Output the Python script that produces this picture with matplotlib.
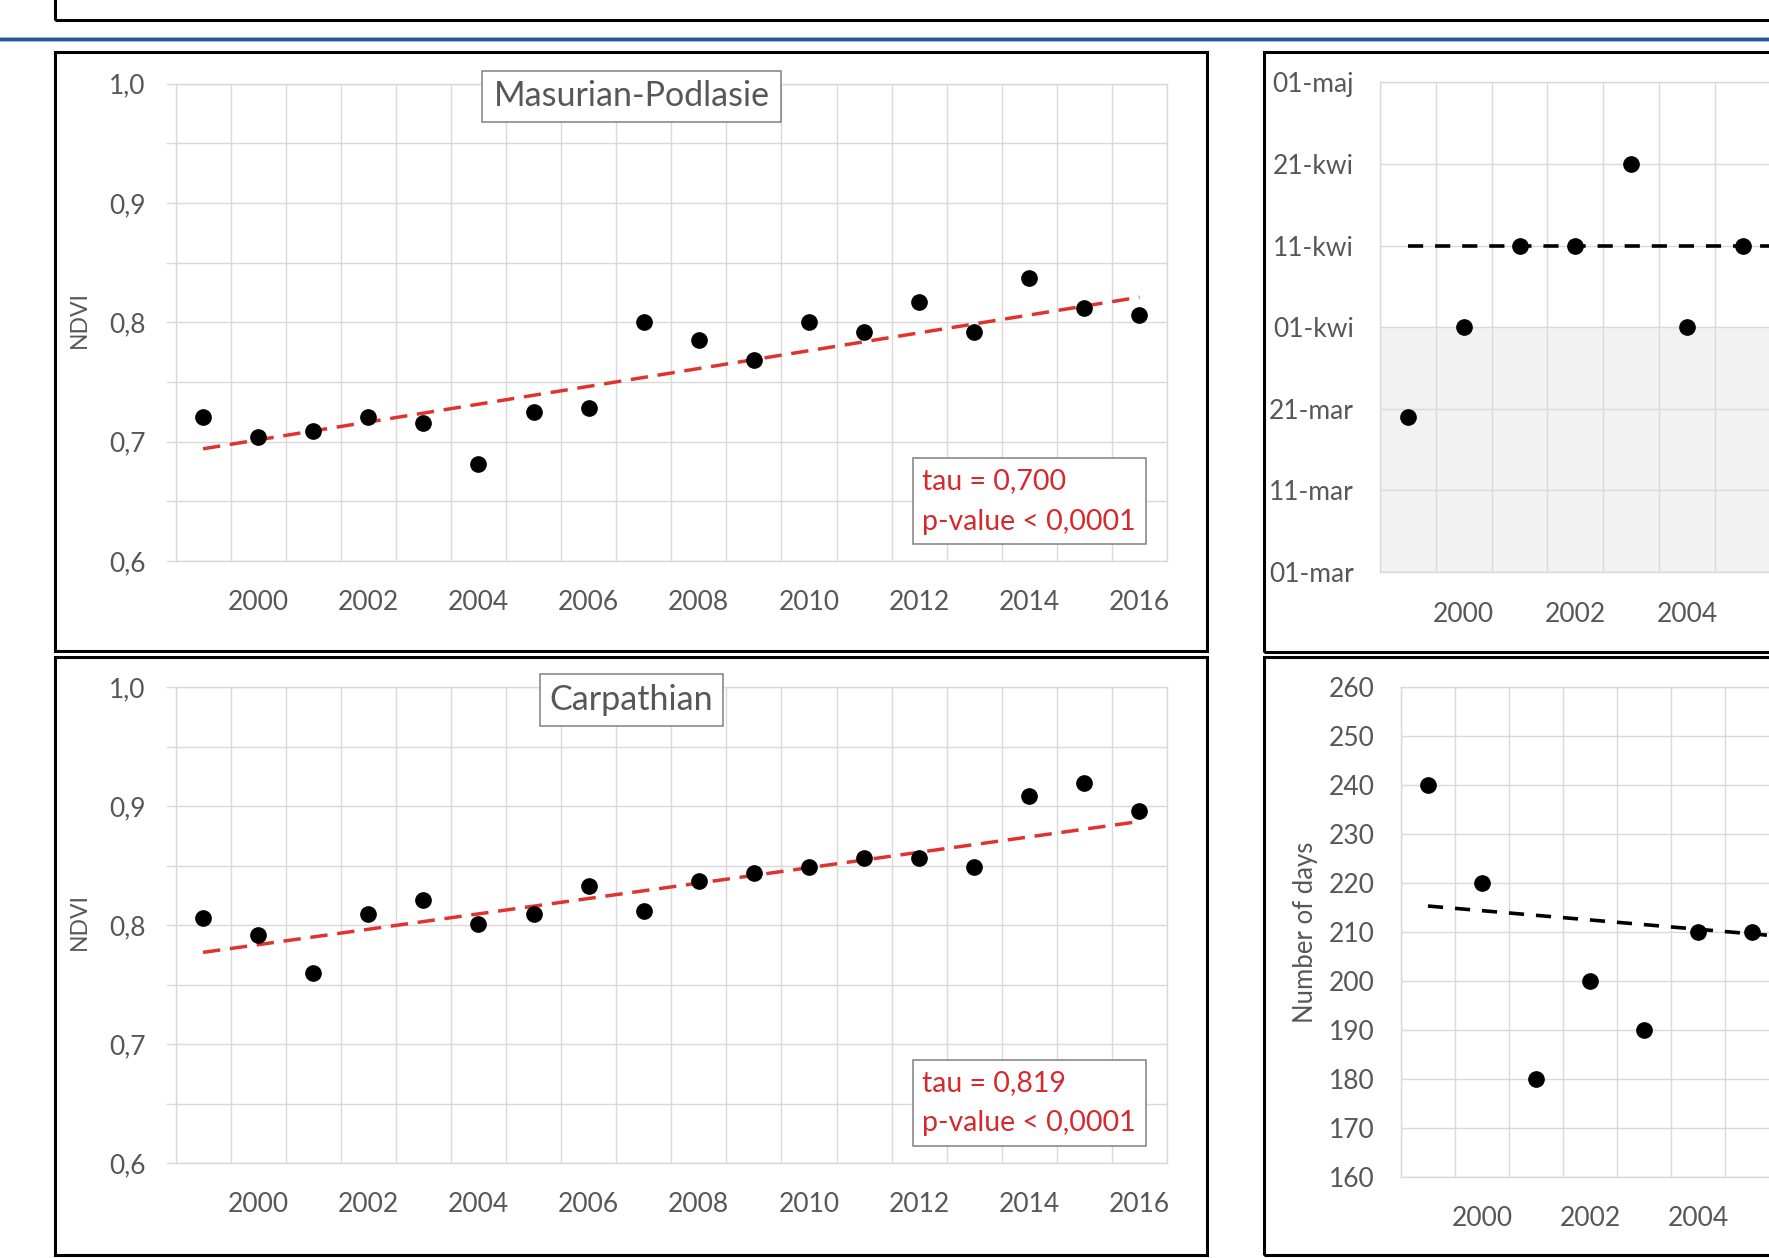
import matplotlib
matplotlib.use("Agg")
import matplotlib.pyplot as plt
from matplotlib.patches import Rectangle
from matplotlib.lines import Line2D

# ---------------- data ----------------
years = list(range(1999, 2017))
year_labels = ['2000', '2002', '2004', '2006', '2008', '2010', '2012', '2014', '2016']

masurian_ndvi = [0.721, 0.704, 0.709, 0.721, 0.716, 0.681, 0.725, 0.728, 0.800,
                 0.785, 0.768, 0.800, 0.792, 0.817, 0.792, 0.837, 0.812, 0.806]
masurian_trend = [0.694, 0.821]          # trend at first / last year
masurian_stats = ['tau = 0,700', 'p-value < 0,0001']

carpathian_ndvi = [0.806, 0.792, 0.760, 0.809, 0.821, 0.801, 0.809, 0.833, 0.812,
                   0.837, 0.844, 0.849, 0.856, 0.856, 0.849, 0.908, 0.919, 0.896]
carpathian_trend = [0.777, 0.887]
carpathian_stats = ['tau = 0,819', 'p-value < 0,0001']

ndvi_ticks = [0.60, 0.65, 0.70, 0.75, 0.80, 0.85, 0.90, 0.95, 1.00]
ndvi_tick_labels = ['0,6', '', '0,7', '', '0,8', '', '0,9', '', '1,0']

# start of season (days after 01-mar, on the chart's 10-day scale) - visible part only
onset_years = [1999, 2000, 2001, 2002, 2003, 2004, 2005]
onset_days = [19, 30, 40, 40, 50, 30, 40]
onset_trend = [40, 40]
date_ticks = [0, 10, 20, 30, 40, 50, 60]
date_labels = ['01-mar', '11-mar', '21-mar', '01-kwi', '11-kwi', '21-kwi', '01-maj']
shade_range = [0, 30]

# length of season (number of days) - visible part only
season_years = [1999, 2000, 2001, 2002, 2003, 2004, 2005]
season_days = [240, 220, 180, 200, 190, 210, 210]
season_trend = [215.3, 199.2]
days_ticks = [160, 170, 180, 190, 200, 210, 220, 230, 240, 250, 260]
days_tick_labels = [str(v) for v in days_ticks]

# ---------------- style ----------------
W, H, DPI = 1769, 1258, 100
FONT = ['Lato', 'DejaVu Sans']
plt.rcParams['font.family'] = FONT
GRID = '#d9d9d9'
TXT = '#575757'
RED_LINE = '#e0332e'
RED_TXT = '#d42a2e'
BOXEDGE = '#808080'

fig = plt.figure(figsize=(W / DPI, H / DPI), dpi=DPI)
fig.patch.set_facecolor('white')


def fx(x):
    return x / W


def fy(y):
    return 1 - y / H


def px_axes(left, top, right, bottom):
    return fig.add_axes([fx(left), fy(bottom), (right - left) / W, (bottom - top) / H])


def fig_rect(x0, y0, x1, y1, **kw):
    r = Rectangle((fx(x0), fy(y1)), (x1 - x0) / W, (y1 - y0) / H,
                  transform=fig.transFigure, **kw)
    fig.add_artist(r)
    return r


def setup(ax, xmax, ylim, yticks, ylabels, fs, tick_len, ypad, xpad):
    n = len(years)
    ax.set_xlim(-0.5, xmax)
    ax.set_ylim(*ylim)
    shown = [l for l in year_labels if years.index(int(l)) + 0.5 <= xmax + 1e-9]
    ax.set_xticks([years.index(int(l)) for l in shown])
    ax.set_xticklabels(shown)
    ax.set_xticks([i - 0.5 for i in range(n + 1) if i - 0.5 <= xmax + 1e-9], minor=True)
    ax.set_yticks(yticks)
    ax.set_yticklabels(ylabels)
    ax.grid(True, axis='x', which='minor', color=GRID, lw=1.0)
    ax.grid(True, axis='y', which='major', color=GRID, lw=1.0)
    ax.grid(False, axis='x', which='major')
    ax.tick_params(axis='x', which='both', length=0, pad=xpad, labelsize=fs, labelcolor=TXT)
    ax.tick_params(axis='y', which='major', length=tick_len, width=1.0, color=GRID,
                   pad=ypad, labelsize=fs, labelcolor=TXT)
    for s in ax.spines.values():
        s.set_color(GRID)
        s.set_linewidth(1.0)
    ax.set_axisbelow(True)


# ---------------- decorations (page) ----------------
fig_rect(55, -60, 2600, 20, fill=False, ec='black', lw=2.2)
fig.add_artist(Line2D([0, 1], [fy(39), fy(39)], transform=fig.transFigure,
                      color='#9dbad6', lw=3.6))
fig.add_artist(Line2D([0, 1], [fy(39), fy(39)], transform=fig.transFigure,
                      color='#1f5a96', lw=2.2))

fig_rect(55, 52, 1207, 651, fill=False, ec='black', lw=2.2, zorder=5)
fig_rect(55, 657, 1207, 1255, fill=False, ec='black', lw=2.2, zorder=5)
fig_rect(1264, 52, 2600, 652, fill=False, ec='black', lw=2.2, zorder=5)
fig_rect(1264, 657, 2600, 1255, fill=False, ec='black', lw=2.2, zorder=5)


# ---------------- NDVI panels ----------------
def ndvi_panel(top, bottom, values, trend, title, title_x0, title_x1, stats):
    left, right = 175.5, 1167
    ax = px_axes(left, top, right, bottom)
    setup(ax, len(years) - 0.5, (0.6, 1.0), ndvi_ticks, ndvi_tick_labels, 19, 7.2, 14.4, 21)
    xs = [years.index(y) for y in years]
    ax.plot([xs[0], xs[-1]], trend, color=RED_LINE, lw=2.5, dashes=(5, 2.8), zorder=2)
    ax.plot(xs, values, 'o', color='black', ms=11, zorder=3)
    fig.text(fx(79), fy((top + bottom) / 2 - 3), 'NDVI', rotation=90, ha='center',
             va='center', fontsize=16.5, color=TXT)
    fig_rect(title_x0, top - 13, title_x1, top + 38.5, fill=True, fc='white',
             ec=BOXEDGE, lw=1.1, zorder=6)
    fig.text(fx((title_x0 + title_x1) / 2), fy(top + 13), title, ha='center',
             va='center', fontsize=24.5, color=TXT, zorder=7)
    fig_rect(913, bottom - 103, 1146, bottom - 17, fill=True, fc='white',
             ec=BOXEDGE, lw=1.1, zorder=6)
    fig.text(fx(922), fy(bottom - 79.5), stats[0], ha='left', va='center',
             fontsize=20.5, color=RED_TXT, zorder=7)
    fig.text(fx(922), fy(bottom - 39.5), stats[1], ha='left', va='center',
             fontsize=20.5, color=RED_TXT, zorder=7)
    return ax


ndvi_panel(83.5, 561, masurian_ndvi, masurian_trend, 'Masurian-Podlasie', 482, 781,
           masurian_stats)
ndvi_panel(687, 1163, carpathian_ndvi, carpathian_trend, 'Carpathian', 540, 723,
           carpathian_stats)

# ---------------- start-of-season panel (cut by the page edge) ----------------
l3, c3 = 1380, 55.8
ax3 = px_axes(l3, 82.4, W, 572)
setup(ax3, -0.5 + (W - l3) / c3, (date_ticks[0], date_ticks[-1]), date_ticks, date_labels,
      19, 0, 18.7, 21.5)
ax3.spines['right'].set_visible(False)
ax3.axhspan(shade_range[0], shade_range[1], color='#f2f2f2', zorder=0)
ox = [years.index(y) for y in onset_years]
ax3.plot([0, len(years) - 1], onset_trend, color='black', lw=2.6, dashes=(4.2, 3.3), zorder=2)
ax3.plot(ox, onset_days, 'o', color='black', ms=11, zorder=3)

# ---------------- length-of-season panel (cut by the page edge) ----------------
l4, c4 = 1401, 54
ax4 = px_axes(l4, 687, W, 1177)
setup(ax4, -0.5 + (W - l4) / c4, (days_ticks[0], days_ticks[-1]), days_ticks,
      days_tick_labels, 19, 0, 18.7, 21)
ax4.spines['right'].set_visible(False)
sx = [years.index(y) for y in season_years]
ax4.plot([0, len(years) - 1], season_trend, color='black', lw=2.6, dashes=(4.2, 3.3), zorder=2)
ax4.plot(sx, season_days, 'o', color='black', ms=11, zorder=3)
fig.text(fx(1305), fy(932), 'Number of days', rotation=90, ha='center', va='center',
         fontsize=18.5, color=TXT)

fig.savefig('out.png', dpi=DPI, facecolor='white')
